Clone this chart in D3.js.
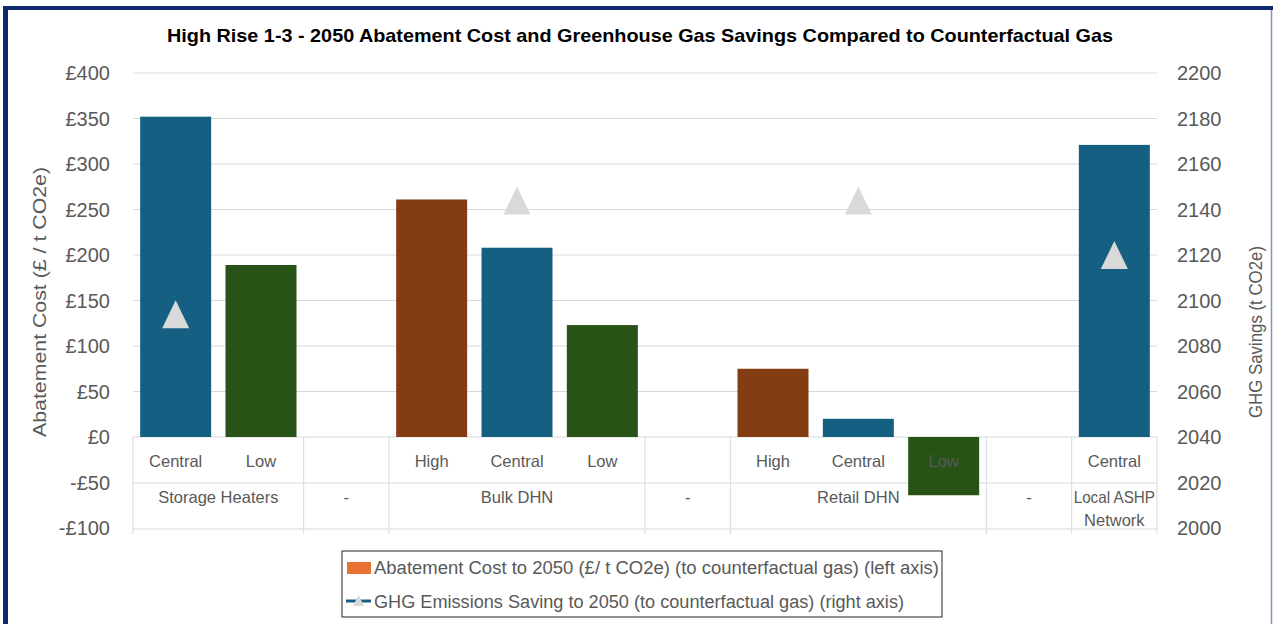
<!DOCTYPE html>
<html>
  <head>
    <meta charset="utf-8">
    <script src="https://d3js.org/d3.v7.min.js"></script>
  </head>
  <style>
    body { margin: 0; background: #fff; }
    svg { display: block; }
    text { font-family: "Liberation Sans", Arial, sans-serif; fill: #595959; }
  </style>
  <body>
    <svg></svg>
    <script>
// chart values
const categories = ["Central", "Low", "", "High", "Central", "Low", "", "High", "Central", "Low", "", "Central"];
const groupNames = ["Storage Heaters", "-", "Bulk DHN", "-", "Retail DHN", "-", "Local ASHP Network"];
const groupSpans = [2, 1, 3, 1, 3, 1, 1];
const abatementCost = [352, 189, null, 261, 208, 123, null, 75, 20, -64, null, 321];
const ghgSavings = [2094, null, null, null, 2144, null, null, null, 2144, null, null, 2120];
const leftTicks = [-100, -50, 0, 50, 100, 150, 200, 250, 300, 350, 400];
const rightTicks = [2000, 2020, 2040, 2060, 2080, 2100, 2120, 2140, 2160, 2180, 2200];

const title = "High Rise 1-3 - 2050 Abatement Cost and Greenhouse Gas Savings Compared to Counterfactual Gas";
const legendLabels = [
  "Abatement Cost to 2050 (£/ t CO2e) (to counterfactual gas) (left axis)",
  "GHG Emissions Saving to 2050 (to counterfactual gas) (right axis)"
];

// bar colour by scenario
const scenarioColors = { High: "#843c12", Central: "#156082", Low: "#275317" };

const W = 1273, H = 624;
const svg = d3.select("svg").attr("width", W).attr("height", H);

const left = 133, right = 1157;
const x = d3.scaleBand()
  .domain(d3.range(categories.length))
  .range([left, right])
  .paddingInner(0.168)
  .paddingOuter(0.084);
const step = (right - left) / categories.length;

const yL = d3.scaleLinear().domain([-100, 400]).range([528, 73]);
const yR = d3.scaleLinear().domain([2000, 2200]).range([528, 73]);
const grid = "#d9d9d9";

// frame
svg.append("line").attr("x1", 3).attr("x2", W).attr("y1", 8).attr("y2", 8)
  .attr("stroke", "#0e2a6b").attr("stroke-width", 4);
svg.append("line").attr("x1", 5.5).attr("x2", 5.5).attr("y1", 6).attr("y2", H)
  .attr("stroke", "#0e2a6b").attr("stroke-width", 5);
svg.append("line").attr("x1", 1271.5).attr("x2", 1271.5).attr("y1", 10).attr("y2", H)
  .attr("stroke", "#8494b8").attr("stroke-width", 1.5);

// title
svg.append("text")
  .attr("x", 167).attr("y", 42)
  .attr("textLength", 946).attr("lengthAdjust", "spacingAndGlyphs")
  .style("font-size", "19px").style("font-weight", "bold").style("fill", "#000")
  .text(title);

// gridlines above zero
svg.append("g").selectAll("line")
  .data(leftTicks.filter(d => d > 0))
  .join("line")
  .attr("x1", left).attr("x2", right)
  .attr("y1", d => yL(d)).attr("y2", d => yL(d))
  .attr("stroke", grid).attr("stroke-width", 1);

// category table lines
const rowY = [yL(0), 483, 529];
svg.append("g").selectAll("line")
  .data(rowY)
  .join("line")
  .attr("x1", left).attr("x2", right)
  .attr("y1", d => d).attr("y2", d => d)
  .attr("stroke", grid).attr("stroke-width", 1);

const bounds = [0, ...d3.cumsum(groupSpans)];
svg.append("g").selectAll("line")
  .data(bounds)
  .join("line")
  .attr("x1", d => left + d * step).attr("x2", d => left + d * step)
  .attr("y1", yL(0)).attr("y2", 534)
  .attr("stroke", grid).attr("stroke-width", 1);

// bars
svg.append("g").selectAll("rect")
  .data(abatementCost.map((v, i) => ({ v, i })).filter(d => d.v !== null))
  .join("rect")
  .attr("x", d => x(d.i))
  .attr("width", x.bandwidth())
  .attr("y", d => yL(Math.max(0, d.v)))
  .attr("height", d => Math.abs(yL(d.v) - yL(0)))
  .attr("fill", d => scenarioColors[categories[d.i]]);

// category labels
svg.append("g").selectAll("text")
  .data(categories)
  .join("text")
  .attr("x", (d, i) => x(i) + x.bandwidth() / 2)
  .attr("y", 467)
  .attr("text-anchor", "middle")
  .style("font-size", "16.5px")
  .text(d => d);

// group labels (wrapped to their span)
groupNames.forEach((name, gi) => {
  const cx = left + (bounds[gi] + groupSpans[gi] / 2) * step;
  const maxW = groupSpans[gi] * step + 8;
  const t = svg.append("text")
    .attr("x", cx).attr("y", 503)
    .attr("text-anchor", "middle")
    .style("font-size", "16.5px");
  let line = [];
  let tspan = t.append("tspan").attr("x", cx).attr("dy", 0);
  name.split(" ").forEach(w => {
    line.push(w);
    tspan.text(line.join(" "));
    if (tspan.node().getComputedTextLength() > maxW && line.length > 1) {
      line.pop();
      tspan.text(line.join(" "));
      line = [w];
      tspan = t.append("tspan").attr("x", cx).attr("dy", "1.4em").text(w);
    }
  });
  // squeeze lines that are a bit wider than the cell
  t.selectAll("tspan").each(function () {
    const len = this.getComputedTextLength();
    if (len > groupSpans[gi] * step - 2) {
      d3.select(this).attr("textLength", groupSpans[gi] * step - 4)
        .attr("lengthAdjust", "spacingAndGlyphs");
    }
  });
});

// GHG markers
const triW = 27, triH = 28;
const tri = (cx, cy) => {
  const p = d3.path();
  p.moveTo(cx, cy - triH / 2);
  p.lineTo(cx + triW / 2, cy + triH / 2);
  p.lineTo(cx - triW / 2, cy + triH / 2);
  p.closePath();
  return p.toString();
};
svg.append("g").selectAll("path")
  .data(ghgSavings.map((v, i) => ({ v, i })).filter(d => d.v !== null))
  .join("path")
  .attr("d", d => tri(x(d.i) + x.bandwidth() / 2, yR(d.v)))
  .attr("fill", "#d9d9d9");

// left axis
svg.append("g").selectAll("text")
  .data(leftTicks)
  .join("text")
  .attr("x", 110).attr("y", d => yL(d)).attr("dy", "0.35em")
  .attr("text-anchor", "end")
  .style("font-size", "20px")
  .text(d => (d < 0 ? "-£" : "£") + Math.abs(d));

// right axis
svg.append("g").selectAll("text")
  .data(rightTicks)
  .join("text")
  .attr("x", 1177).attr("y", d => yR(d)).attr("dy", "0.35em")
  .style("font-size", "20px")
  .text(d => d);

// axis titles
svg.append("text")
  .attr("transform", "translate(46,302) rotate(-90)")
  .attr("text-anchor", "middle")
  .attr("textLength", 270).attr("lengthAdjust", "spacingAndGlyphs")
  .style("font-size", "19px")
  .text("Abatement Cost (£ / t CO2e)");
svg.append("text")
  .attr("transform", "translate(1262,332) rotate(-90)")
  .attr("text-anchor", "middle")
  .attr("textLength", 172).attr("lengthAdjust", "spacingAndGlyphs")
  .style("font-size", "19px")
  .text("GHG Savings (t CO2e)");

// legend
const lg = svg.append("g");
lg.append("rect").attr("x", 342).attr("y", 551).attr("width", 600).attr("height", 66)
  .attr("fill", "#fff").attr("stroke", "#262626").attr("stroke-width", 1);
lg.append("rect").attr("x", 347).attr("y", 562).attr("width", 24).attr("height", 12)
  .attr("fill", "#e97132");
lg.append("line").attr("x1", 346).attr("x2", 371).attr("y1", 601).attr("y2", 601)
  .attr("stroke", "#156082").attr("stroke-width", 3);
lg.append("path")
  .attr("d", "M358.5,595 L364,606 L353,606 Z")
  .attr("fill", "#d9d9d9");
lg.selectAll("text.leg")
  .data(legendLabels)
  .join("text")
  .attr("class", "leg")
  .attr("x", 374)
  .attr("y", (d, i) => 574 + i * 34)
  .attr("textLength", (d, i) => [565, 530][i])
  .attr("lengthAdjust", "spacingAndGlyphs")
  .style("font-size", "18px")
  .text(d => d);
    </script>
  </body>
</html>
